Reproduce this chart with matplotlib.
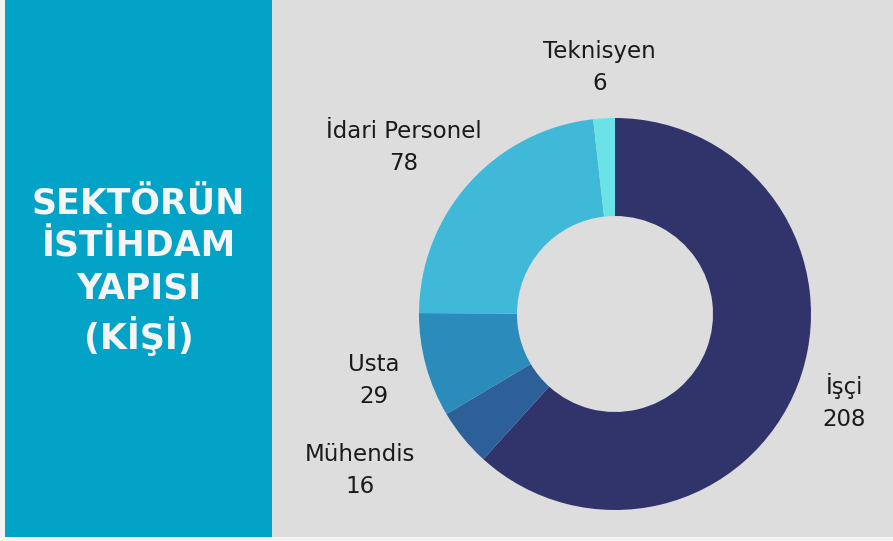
import matplotlib
matplotlib.use("Agg")
import matplotlib.pyplot as plt

# data
categories = ["İşçi", "Mühendis", "Usta", "İdari Personel", "Teknisyen"]
values = [208, 16, 29, 78, 6]
colors = ["#31346B", "#2D5F99", "#2B8BBA", "#40B8D8", "#6BE2E8"]
title = "SEKTÖRÜN\nİSTİHDAM\nYAPISI\n(KİŞİ)"

# label positions in donut units (radius = 1)
label_pos = [(1.17, -0.45), (-1.30, -0.80), (-1.23, -0.34), (-1.08, 0.85), (-0.08, 1.26)]

W, H = 893, 541
FONT = ["DejaVu Sans"]

fig = plt.figure(figsize=(W / 100, H / 100), dpi=100)
fig.patch.set_facecolor("#F3F3F3")


def px_axes(x0, y0, x1, y1):
    # image pixel box (top-left origin) -> figure axes
    return fig.add_axes([x0 / W, 1 - y1 / H, (x1 - x0) / W, (y1 - y0) / H])


# gray chart panel
bg = px_axes(272, 0, 893, 537)
bg.set_facecolor("#DDDDDD")
bg.set_xticks([])
bg.set_yticks([])
for s in bg.spines.values():
    s.set_visible(False)

# blue title panel
side = px_axes(5, 0, 272, 537)
side.set_facecolor("#03A2C7")
side.set_xticks([])
side.set_yticks([])
for s in side.spines.values():
    s.set_visible(False)
side.text(0.5, 0.495, title, transform=side.transAxes, ha="center", va="center",
          color="#F5F5F5", fontsize=25, fontweight="bold", family=FONT, linespacing=1.32)

# donut
ax = px_axes(419, 118, 811, 510)
ax.pie(values, colors=colors, startangle=90, counterclock=False, radius=1,
       wedgeprops=dict(width=0.5, edgecolor="none"))
ax.set_xlim(-1, 1)
ax.set_ylim(-1, 1)
ax.set_aspect("equal")
ax.axis("off")

for cat, val, (lx, ly) in zip(categories, values, label_pos):
    ax.text(lx, ly, f"{cat}\n{val}", ha="center", va="center", fontsize=16.5,
            color="#1A1A1A", family=FONT, linespacing=1.5, clip_on=False)

fig.savefig("out.png", dpi=100, facecolor=fig.get_facecolor())
